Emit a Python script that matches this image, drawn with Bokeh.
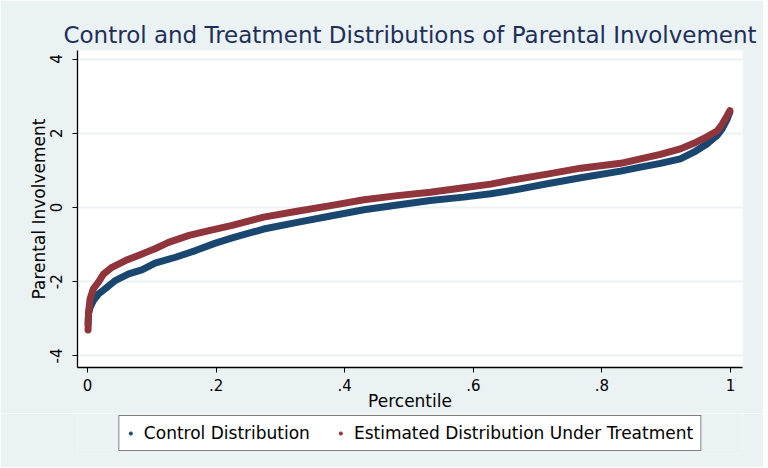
from bokeh.plotting import figure
from bokeh.layouts import column
from bokeh.models import Range1d, FixedTicker, Legend, LegendItem
from bokeh.embed import file_html
from bokeh.resources import INLINE

title_text = "Control and Treatment Distributions of Parental Involvement"
x_label = "Percentile"
y_label = "Parental Involvement"
series_names = ["Control Distribution", "Estimated Distribution Under Treatment"]
x_ticks = [0, 0.2, 0.4, 0.6, 0.8, 1.0]
x_tick_labels = ["0", ".2", ".4", ".6", ".8", "1"]
y_ticks = [-4, -2, 0, 2, 4]
y_tick_labels = ["-4", "-2", "0", "2", "4"]

control_pct = [0.0008, 0.0016, 0.004, 0.009, 0.017, 0.0275, 0.043, 0.064, 0.0845,
               0.105, 0.137, 0.168, 0.199, 0.225, 0.274, 0.326, 0.378, 0.430,
               0.482, 0.533, 0.585, 0.627, 0.663, 0.715, 0.767, 0.829, 0.860,
               0.891, 0.922, 0.943, 0.964, 0.979, 0.987, 0.995, 0.999]
control_val = [-3.13, -2.86, -2.69, -2.51, -2.33, -2.19, -1.97, -1.79, -1.68,
               -1.50, -1.34, -1.16, -0.96, -0.82, -0.58, -0.40, -0.23, -0.06,
               0.07, 0.19, 0.28, 0.37, 0.47, 0.64, 0.80, 0.98, 1.09,
               1.19, 1.31, 1.49, 1.72, 1.94, 2.12, 2.39, 2.57]

treat_pct = [0.0008, 0.0016, 0.004, 0.009, 0.017, 0.025, 0.038, 0.059, 0.079,
             0.105, 0.126, 0.158, 0.189, 0.225, 0.274, 0.326, 0.378, 0.430,
             0.482, 0.533, 0.585, 0.627, 0.663, 0.715, 0.767, 0.829, 0.860,
             0.891, 0.922, 0.943, 0.964, 0.979, 0.987, 0.995, 0.999]
treat_val = [-3.30, -2.82, -2.46, -2.19, -2.01, -1.79, -1.61, -1.43, -1.29,
             -1.11, -0.94, -0.75, -0.62, -0.48, -0.26, -0.10, 0.05, 0.21,
             0.32, 0.41, 0.53, 0.63, 0.75, 0.90, 1.06, 1.19, 1.31,
             1.43, 1.58, 1.73, 1.91, 2.06, 2.24, 2.48, 2.61]

BG = "#eaf2f3"
NAVY = "#1a476f"
MAROON = "#90353b"
FONT = "DejaVu Sans"

# ---------------- main chart ----------------
p = figure(frame_width=665, frame_height=317, output_backend="svg",
           toolbar_location=None,
           x_range=Range1d(-0.0156, 1.0187), y_range=Range1d(-4.31, 4.23),
           min_border_left=77, min_border_right=21, min_border_top=50,
           min_border_bottom=41)
p.border_fill_color = BG
p.background_fill_color = "white"
p.outline_line_color = None

p.title.text = title_text
p.title.align = "center"
p.title.text_font = FONT
p.title.text_font_size = "23px"
p.title.text_font_style = "normal"
p.title.text_color = "#1e2f5a"
p.title.standoff = 6

for ax in (p.xaxis[0], p.yaxis[0]):
    ax.axis_line_color = "black"
    ax.axis_line_width = 1.3
    ax.major_tick_line_color = "black"
    ax.major_tick_out = 5
    ax.major_tick_in = 0
    ax.minor_tick_line_color = None
    ax.major_label_text_font = FONT
    ax.major_label_text_font_size = "15px"
    ax.major_label_text_color = "black"
    ax.axis_label_text_font = FONT
    ax.axis_label_text_font_size = "17px"
    ax.axis_label_text_font_style = "normal"
    ax.axis_label_text_color = "black"

p.xaxis.ticker = FixedTicker(ticks=x_ticks)
p.xaxis.major_label_overrides = dict(zip(x_ticks, x_tick_labels))
p.xaxis.axis_label = x_label
p.xaxis.major_label_standoff = 6
p.xaxis.axis_label_standoff = -3

p.yaxis.ticker = FixedTicker(ticks=y_ticks)
p.yaxis.major_label_overrides = dict(zip(y_ticks, y_tick_labels))
p.yaxis.major_label_orientation = "vertical"
p.yaxis.axis_label = y_label
p.yaxis.major_label_standoff = 10
p.yaxis.axis_label_standoff = -1

p.xgrid.visible = False
p.ygrid.ticker = FixedTicker(ticks=y_ticks)
p.ygrid.grid_line_color = BG
p.ygrid.grid_line_width = 2

p.line(control_pct, control_val, line_color=NAVY, line_width=7,
       line_join="round", line_cap="round")
p.scatter(control_pct, control_val, size=5, color=NAVY)
p.line(treat_pct, treat_val, line_color=MAROON, line_width=7,
       line_join="round", line_cap="round")
p.scatter(treat_pct, treat_val, size=5, color=MAROON)

# ---------------- legend strip ----------------
lg = figure(frame_width=665, frame_height=40, output_backend="svg",
            toolbar_location=None, x_axis_type=None, y_axis_type=None,
            x_range=Range1d(5, 6), y_range=Range1d(5, 6),
            min_border_left=77, min_border_right=21, min_border_top=0,
            min_border_bottom=14)
lg.border_fill_color = BG
lg.background_fill_color = BG
lg.outline_line_color = None
lg.grid.visible = False
c_pts = lg.scatter(control_pct, control_val, size=5, color=NAVY)
t_pts = lg.scatter(treat_pct, treat_val, size=5, color=MAROON)

legend = Legend(items=[LegendItem(label=series_names[0], renderers=[c_pts]),
                       LegendItem(label=series_names[1], renderers=[t_pts])],
                orientation="horizontal", location="center")
legend.label_text_font = FONT
legend.label_text_font_size = "17px"
legend.label_text_color = "black"
legend.glyph_width = 8
legend.glyph_height = 16
legend.label_height = 16
legend.label_standoff = 10
legend.spacing = 26
legend.padding = 7
legend.margin = 0
legend.border_line_color = "black"
legend.border_line_width = 1
legend.background_fill_color = "white"
legend.background_fill_alpha = 1
lg.add_layout(legend)

layout = column(p, lg, spacing=0)
open("out.html", "w").write(file_html(layout, INLINE))
